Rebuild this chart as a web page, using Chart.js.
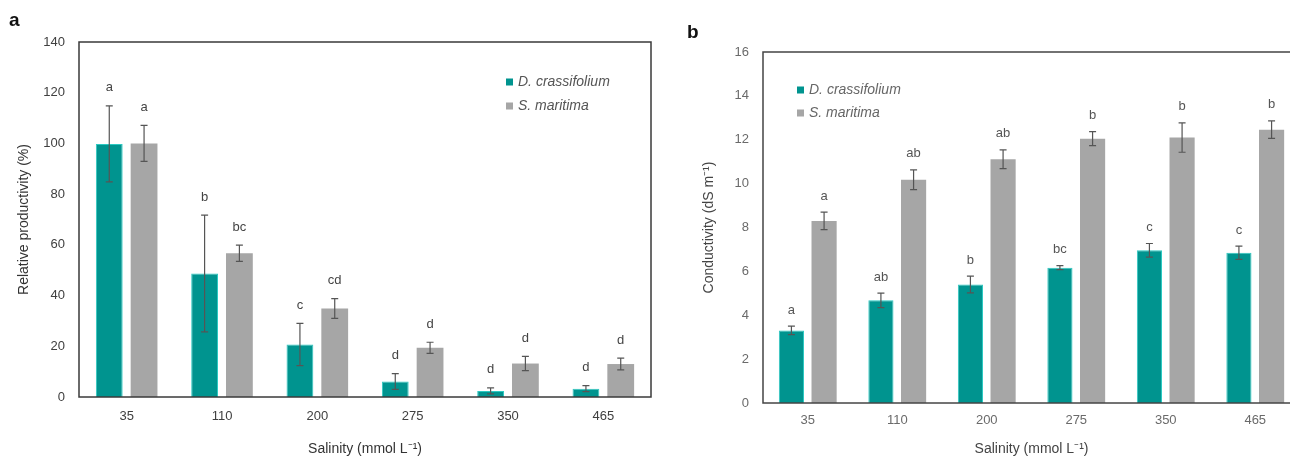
<!DOCTYPE html>
<html>
<head>
<meta charset="utf-8">
<script src="https://cdn.jsdelivr.net/npm/chart.js@4.4.1/dist/chart.umd.min.js"></script>
<style>
  html, body { margin: 0; padding: 0; background: #fff; overflow: hidden; }
  #wrap { position: relative; width: 1290px; height: 458px; overflow: hidden; }
  #chartA { position: absolute; left: 0; top: 0; }
  #chartB { position: absolute; left: 660px; top: 0; }
</style>
</head>
<body>
<div id="wrap">
  <canvas id="chartA" width="660" height="458"></canvas>
  <canvas id="chartB" width="660" height="458"></canvas>
</div>
<script>
// salinity levels (mmol L-1)
var salinity = ['35', '110', '200', '275', '350', '465'];
var seriesNames = ['D. crassifolium', 'S. maritima'];

// panel a - relative productivity (%)
var prodDc = [99.8, 48.7, 20.7, 6.1, 2.4, 3.3];
var prodDcErr = [15, 23, 8.3, 3.1, 1.2, 1.2];
var prodSm = [100, 56.7, 34.9, 19.4, 13.2, 13.0];
var prodSmErr = [7.1, 3.2, 3.9, 2.2, 2.8, 2.3];
var prodDcLetters = ['a', 'b', 'c', 'd', 'd', 'd'];
var prodSmLetters = ['a', 'bc', 'cd', 'd', 'd', 'd'];

// panel b - conductivity (dS m-1)
var condDc = [3.31, 4.68, 5.40, 6.17, 6.96, 6.85];
var condDcErr = [0.19, 0.33, 0.38, 0.09, 0.31, 0.30];
var condSm = [8.30, 10.18, 11.11, 12.05, 12.10, 12.46];
var condSmErr = [0.40, 0.45, 0.43, 0.32, 0.67, 0.40];
var condDcLetters = ['a', 'ab', 'b', 'bc', 'c', 'c'];
var condSmLetters = ['a', 'ab', 'ab', 'b', 'b', 'b'];

var tealColor = '#00948f';
var greyColor = '#a6a6a6';

Chart.defaults.font.family = '"Liberation Sans", Arial, sans-serif';

// error bars, letters, legend, frame and panel letter
var extrasPlugin = {
  id: 'extras',
  afterDraw: function (chart, args, opts) {
    var ctx = chart.ctx;
    var area = chart.chartArea;
    var yScale = chart.scales.y;
    ctx.save();

    // frame
    ctx.strokeStyle = opts.frameColor;
    ctx.lineWidth = 1.5;
    ctx.strokeRect(area.left, area.top, area.right - area.left, area.bottom - area.top);

    chart.data.datasets.forEach(function (ds, i) {
      var meta = chart.getDatasetMeta(i);
      var errs = opts.errors[i];
      var letters = opts.letters[i];
      meta.data.forEach(function (bar, j) {
        var v = ds.data[j], e = errs[j];
        var yTop = yScale.getPixelForValue(v + e);
        var yBot = yScale.getPixelForValue(Math.max(v - e, 0));
        ctx.strokeStyle = '#555';
        ctx.lineWidth = 1.2;
        ctx.beginPath();
        ctx.moveTo(bar.x, yTop); ctx.lineTo(bar.x, yBot);
        ctx.moveTo(bar.x - 3.5, yTop); ctx.lineTo(bar.x + 3.5, yTop);
        ctx.moveTo(bar.x - 3.5, yBot); ctx.lineTo(bar.x + 3.5, yBot);
        ctx.stroke();

        ctx.fillStyle = opts.letterColor;
        ctx.font = '13px "Liberation Sans", Arial, sans-serif';
        ctx.textAlign = 'center';
        ctx.textBaseline = 'middle';
        ctx.fillText(letters[j], bar.x, yTop - opts.letterGap);
      });
    });

    // legend
    var lg = opts.legend;
    chart.data.datasets.forEach(function (ds, i) {
      var cy = lg.y + i * lg.gap;
      ctx.fillStyle = ds.backgroundColor;
      ctx.fillRect(lg.x, cy - 3.5, 7, 7);
      ctx.fillStyle = opts.legendColor;
      ctx.font = 'italic 14px "Liberation Sans", Arial, sans-serif';
      ctx.textAlign = 'left';
      ctx.textBaseline = 'middle';
      ctx.fillText(ds.label, lg.x + 12, cy);
    });

    // panel label
    ctx.fillStyle = '#111';
    ctx.font = 'bold 19px "Liberation Sans", Arial, sans-serif';
    ctx.textAlign = 'left';
    ctx.textBaseline = 'middle';
    ctx.fillText(opts.panel.text, opts.panel.x, opts.panel.y);
    ctx.restore();
  }
};

function makeChart(id, cfg) {
  return new Chart(document.getElementById(id), {
    type: 'bar',
    data: {
      labels: salinity,
      datasets: [
        { label: seriesNames[0], data: cfg.dc, backgroundColor: tealColor,
          borderColor: '#2cc9c2', borderWidth: { left: 1, right: 1, top: 1, bottom: 0 },
          categoryPercentage: 0.73, barPercentage: 0.77 },
        { label: seriesNames[1], data: cfg.sm, backgroundColor: greyColor,
          borderWidth: 0, categoryPercentage: 0.73, barPercentage: 0.77 }
      ]
    },
    options: {
      responsive: false,
      animation: false,
      layout: { padding: { top: cfg.top, right: cfg.right, left: 0, bottom: 0 } },
      plugins: {
        legend: { display: false },
        tooltip: { enabled: false },
        extras: cfg.extras
      },
      scales: {
        x: {
          grid: { display: false, drawTicks: false },
          border: { display: false },
          ticks: { color: cfg.tickColor, font: { size: 13 }, padding: cfg.xPad },
          title: { display: true, text: 'Salinity (mmol L\u207B\u00B9)', color: cfg.titleColor,
                   font: { size: 14 }, padding: { top: 0, bottom: 0 } },
          afterFit: function (s) { s.height = cfg.xHeight; }
        },
        y: {
          min: 0, max: cfg.yMax,
          grid: { display: false, drawTicks: false },
          border: { display: false },
          ticks: { stepSize: cfg.yStep, color: cfg.tickColor, font: { size: 13 }, padding: cfg.yPad },
          title: { display: true, text: cfg.yTitle, color: cfg.titleColor,
                   font: { size: 14 }, padding: { top: cfg.yTitlePad, bottom: 0 } },
          afterFit: function (s) { s.width = cfg.yWidth; }
        }
      }
    },
    plugins: [extrasPlugin]
  });
}

makeChart('chartA', {
  dc: prodDc, sm: prodSm, yMax: 140, yStep: 20,
  yTitle: 'Relative productivity (%)',
  top: 42, right: 9, yWidth: 79, xHeight: 61, xPad: 12, yPad: 14, yTitlePad: 16,
  tickColor: '#404040', titleColor: '#333',
  extras: {
    errors: [prodDcErr, prodSmErr], letters: [prodDcLetters, prodSmLetters],
    letterGap: 18, letterColor: '#444', frameColor: '#3a3a3a', legendColor: '#555',
    legend: { x: 506, y: 82, gap: 24 },
    panel: { text: 'a', x: 9, y: 21 }
  }
});

makeChart('chartB', {
  dc: condDc, sm: condSm, yMax: 16, yStep: 2,
  yTitle: 'Conductivity (dS m\u207B\u00B9)',
  top: 52, right: 20, yWidth: 103, xHeight: 55, xPad: 10, yPad: 14, yTitlePad: 41,
  tickColor: '#6a6a6a', titleColor: '#444',
  extras: {
    errors: [condDcErr, condSmErr], letters: [condDcLetters, condSmLetters],
    letterGap: 16, letterColor: '#555', frameColor: '#444', legendColor: '#666',
    legend: { x: 137, y: 90, gap: 23 },
    panel: { text: 'b', x: 27, y: 33 }
  }
});
</script>
</body>
</html>
